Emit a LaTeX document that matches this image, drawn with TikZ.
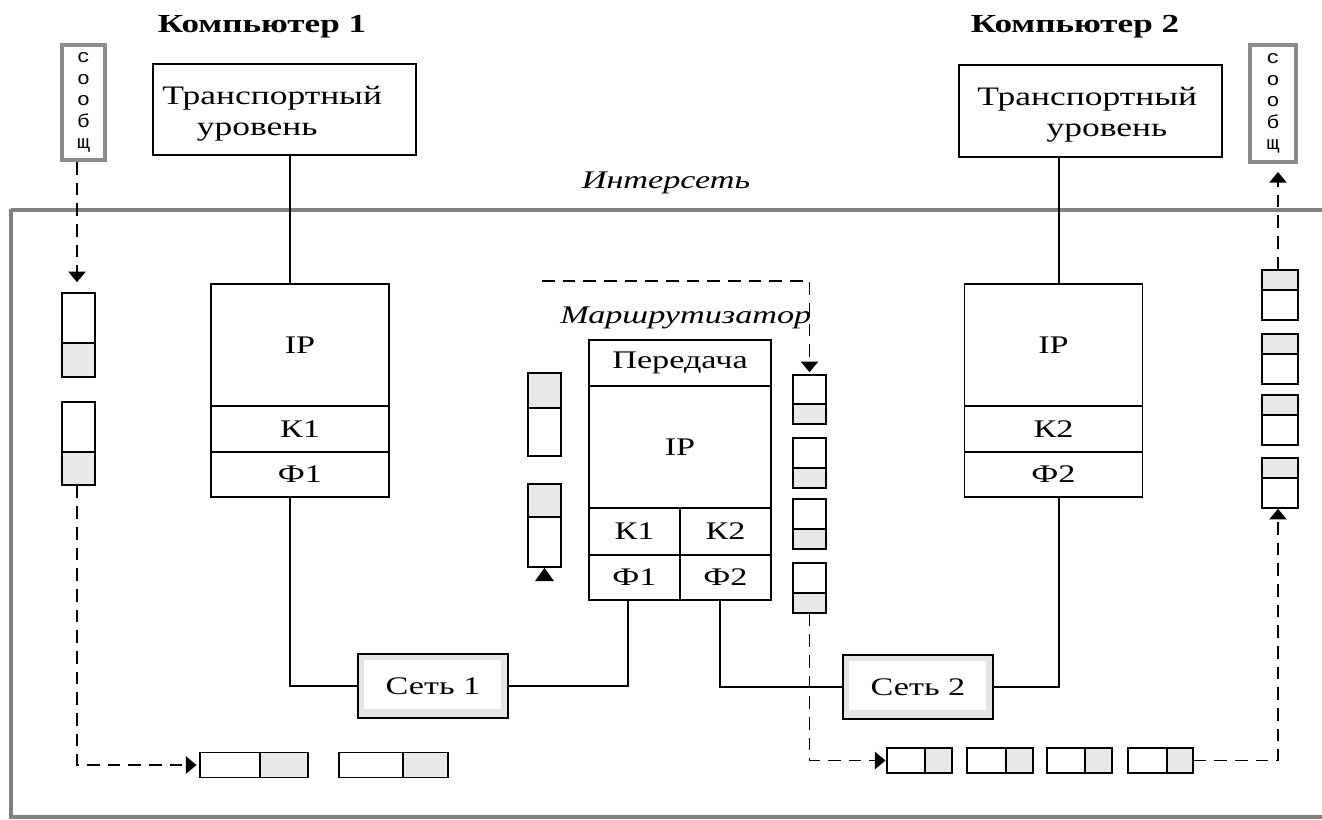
\documentclass[tikz,border=0pt]{standalone}
\usepackage{fontspec}
\setmainfont{Liberation Serif}
\newfontfamily\rf[FakeStretch=1.35]{Liberation Serif}
\newfontfamily\trf[FakeStretch=1.33]{Liberation Serif}
\newfontfamily\mf[FakeStretch=1.15]{Liberation Mono}
\usetikzlibrary{arrows.meta,calc}
\tikzset{
  >={Triangle[width=13pt,length=8pt]},
  ln/.style={line width=1.2pt},
  dsh/.style={line width=1.1pt, dash pattern=on 9.5pt off 6pt},
  bx/.style 2 args={draw, line width=1.2pt, inner sep=0pt, minimum width={#1*0.75pt}, minimum height={#2*0.75pt}},
  lab/.style={font=\rf\fontsize{19}{22}\selectfont},
  ttl/.style={font=\rf\bfseries\fontsize{19.5}{22}\selectfont, inner sep=0pt},
  tt/.style={font=\trf\fontsize{20}{23}\selectfont, inner sep=0pt, align=left},
  itl/.style={font=\rf\itshape\fontsize{19}{22}\selectfont, inner sep=0pt},
  pw/.style 2 args={bx={#1}{#2}, fill=white},
  pg/.style 2 args={bx={#1}{#2}, fill=gray!18},
  msg/.style 2 args={draw=black!45, line width=3pt, inner sep=0pt, align=center,
    minimum width={#1*0.75pt}, minimum height={#2*0.75pt},
    font=\mf\fontsize{14}{16.2}\selectfont},
  net/.style={bx={150}{64}, fill=gray!20,
    path picture={\fill[white] ($(path picture bounding box.north west)+(4.5pt,-4.5pt)$) rectangle ($(path picture bounding box.south east)+(-5.5pt,6.5pt)$);}},
  frame/.style={draw=black!50, line width=2.5pt},
}
\begin{document}
\begin{tikzpicture}[x=0.75pt,y=-0.75pt]
\useasboundingbox (0,0) rectangle (1322,819);
% frame
\draw[frame] (11,210) -- (1340,210);
\draw[frame] (11,208.5) -- (11,817) -- (1340,817);
\node[itl, anchor=base] (inet) at (666,188) {Интерсеть};
% titles
\node[ttl, anchor=base] (c1) at (262,32) {Компьютер 1};
\node[ttl, anchor=base] (c2) at (1075,32) {Компьютер 2};
% transport boxes
\node[bx={263}{91}] (tr1) at (284.5,109.5) {};
\node[tt, anchor=base west] (tr1t) at (162,135) {Транспортный\\\kern26pt уровень};
\node[bx={263}{92}] (tr2) at (1090.5,111) {};
\node[tt, anchor=base west] (tr2t) at (977,136) {Транспортный\\\kern52pt уровень};
% message boxes
\node[msg={43}{115}] (m1) at (83.5,102.5) {с\\о\\о\\б\\щ};
\node[msg={46}{117}] (m2) at (1273,103.5) {с\\о\\о\\б\\щ};
% IP stack 1
\node[bx={178}{122}, lab] (ip1) at (300,345) {IP};
\node[bx={178}{46}, lab] (k1) at (300,429) {К1};
\node[bx={178}{45}, lab] (f1) at (300,474.5) {Ф1};
% IP stack 2
\node[bx={178}{122}, lab] (ip2) at (1053.5,345) {IP};
\node[bx={178}{46}, lab] (k2) at (1053.5,429) {К2};
\node[bx={178}{45}, lab] (f2) at (1053.5,474.5) {Ф2};
% router
\node[itl, anchor=base west] (rl) at (560,323) {Маршрутизатор};
\node[bx={182}{46}, lab] (rp) at (680,363) {Передача};
\node[bx={182}{122}, lab] (rip) at (680,447) {IP};
\node[bx={91}{47}, lab] (rk1) at (634.5,531.5) {К1};
\node[bx={91}{47}, lab] (rk2) at (725.5,531.5) {К2};
\node[bx={91}{45}, lab] (rf1) at (634.5,577.5) {Ф1};
\node[bx={91}{45}, lab] (rf2) at (725.5,577.5) {Ф2};
% networks
\node[net, lab] (s1) at (433,686) {Сеть 1};
\node[net, lab] (s2) at (918,687) {Сеть 2};
% connector x positions
\coordinate (x1) at (290,0);
\coordinate (x2) at (1059,0);
\coordinate (x3) at (628,0);
\coordinate (x4) at (720,0);
\coordinate (xl) at (77,0);
\coordinate (xr) at (1278,0);
\draw[ln] (tr1.south -| x1) -- (ip1.north -| x1);
\draw[ln] (tr2.south -| x2) -- (ip2.north -| x2);
\draw[ln] (f1.south -| x1) |- (s1.west);
\draw[ln] (s1.east) -| (rf1.south -| x3);
\draw[ln] (rf2.south -| x4) |- (s2.west);
\draw[ln] (s2.east) -| (f2.south -| x2);
% left stack packets
\node[pw={33}{50}] (lp1a) at (78.5,318) {};
\node[pg={33}{34}] (lp1b) at (78.5,360) {};
\node[pw={33}{50}] (lp2a) at (78.5,427) {};
\node[pg={33}{33}] (lp2b) at (78.5,468.5) {};
% bottom-left packets
\node[pw={60}{25}] (bl1a) at (230,765) {};
\node[pg={48}{25}] (bl1b) at (284,765) {};
\node[pw={64}{25}] (bl2a) at (371,765) {};
\node[pg={45}{25}] (bl2b) at (425.5,765) {};
% router-left packets
\node[pg={33}{35}] (ra1) at (544.5,390.5) {};
\node[pw={33}{48}] (ra2) at (544.5,432) {};
\node[pg={33}{33}] (rb1) at (544.5,500.5) {};
\node[pw={33}{50}] (rb2) at (544.5,542) {};
% router-right packets
\node[pw={33}{29}] (rr1a) at (809.5,389.5) {};
\node[pg={33}{20}] (rr1b) at (809.5,414) {};
\node[pw={33}{30}] (rr2a) at (809.5,453) {};
\node[pg={33}{20}] (rr2b) at (809.5,478) {};
\node[pw={33}{30}] (rr3a) at (809.5,514) {};
\node[pg={33}{20}] (rr3b) at (809.5,539) {};
\node[pw={33}{30}] (rr4a) at (809.5,578) {};
\node[pg={33}{20}] (rr4b) at (809.5,603) {};
% bottom-right packets
\node[pw={38}{25}] (br1a) at (906,760.5) {};
\node[pg={27}{25}] (br1b) at (938.5,760.5) {};
\node[pw={39}{25}] (br2a) at (986.5,760.5) {};
\node[pg={27}{25}] (br2b) at (1019.5,760.5) {};
\node[pw={38}{25}] (br3a) at (1066,760.5) {};
\node[pg={27}{25}] (br3b) at (1098.5,760.5) {};
\node[pw={39}{25}] (br4a) at (1147.5,760.5) {};
\node[pg={26}{25}] (br4b) at (1180,760.5) {};
% right stack packets
\node[pg={36}{20}] (rs1a) at (1280,280) {};
\node[pw={36}{30}] (rs1b) at (1280,305) {};
\node[pg={36}{20}] (rs2a) at (1280,344) {};
\node[pw={36}{30}] (rs2b) at (1280,369) {};
\node[pg={36}{20}] (rs3a) at (1280,405) {};
\node[pw={36}{30}] (rs3b) at (1280,430) {};
\node[pg={36}{20}] (rs4a) at (1280,468) {};
\node[pw={36}{30}] (rs4b) at (1280,493) {};
% dashed flows
\draw[dsh,->,shorten >=7.5pt] (m1.south -| xl) -- (lp1a.north -| xl);
\draw[dsh,->,shorten >=2pt] (lp2b.south -| xl) |- (bl1a.west);
\coordinate (rs0) at (542,281);
\draw[dsh,->,shorten >=1.5pt] (rs0) -| (rr1a.north);
\draw[dsh,->,shorten >=0.5pt] (rr4b.south) |- (br1a.west);
\draw[dsh,->] (br4b.east) -| (rs4b.south -| xr);
\draw[dsh,->,shorten >=6pt] (rs1a.north -| xr) -- (m2.south -| xr);
\coordinate (tb) at (544.5,580.3);
\draw[ln,-{Triangle[width=14pt,length=10pt]}] (tb) -- (rb2.south);
\end{tikzpicture}
\end{document}
